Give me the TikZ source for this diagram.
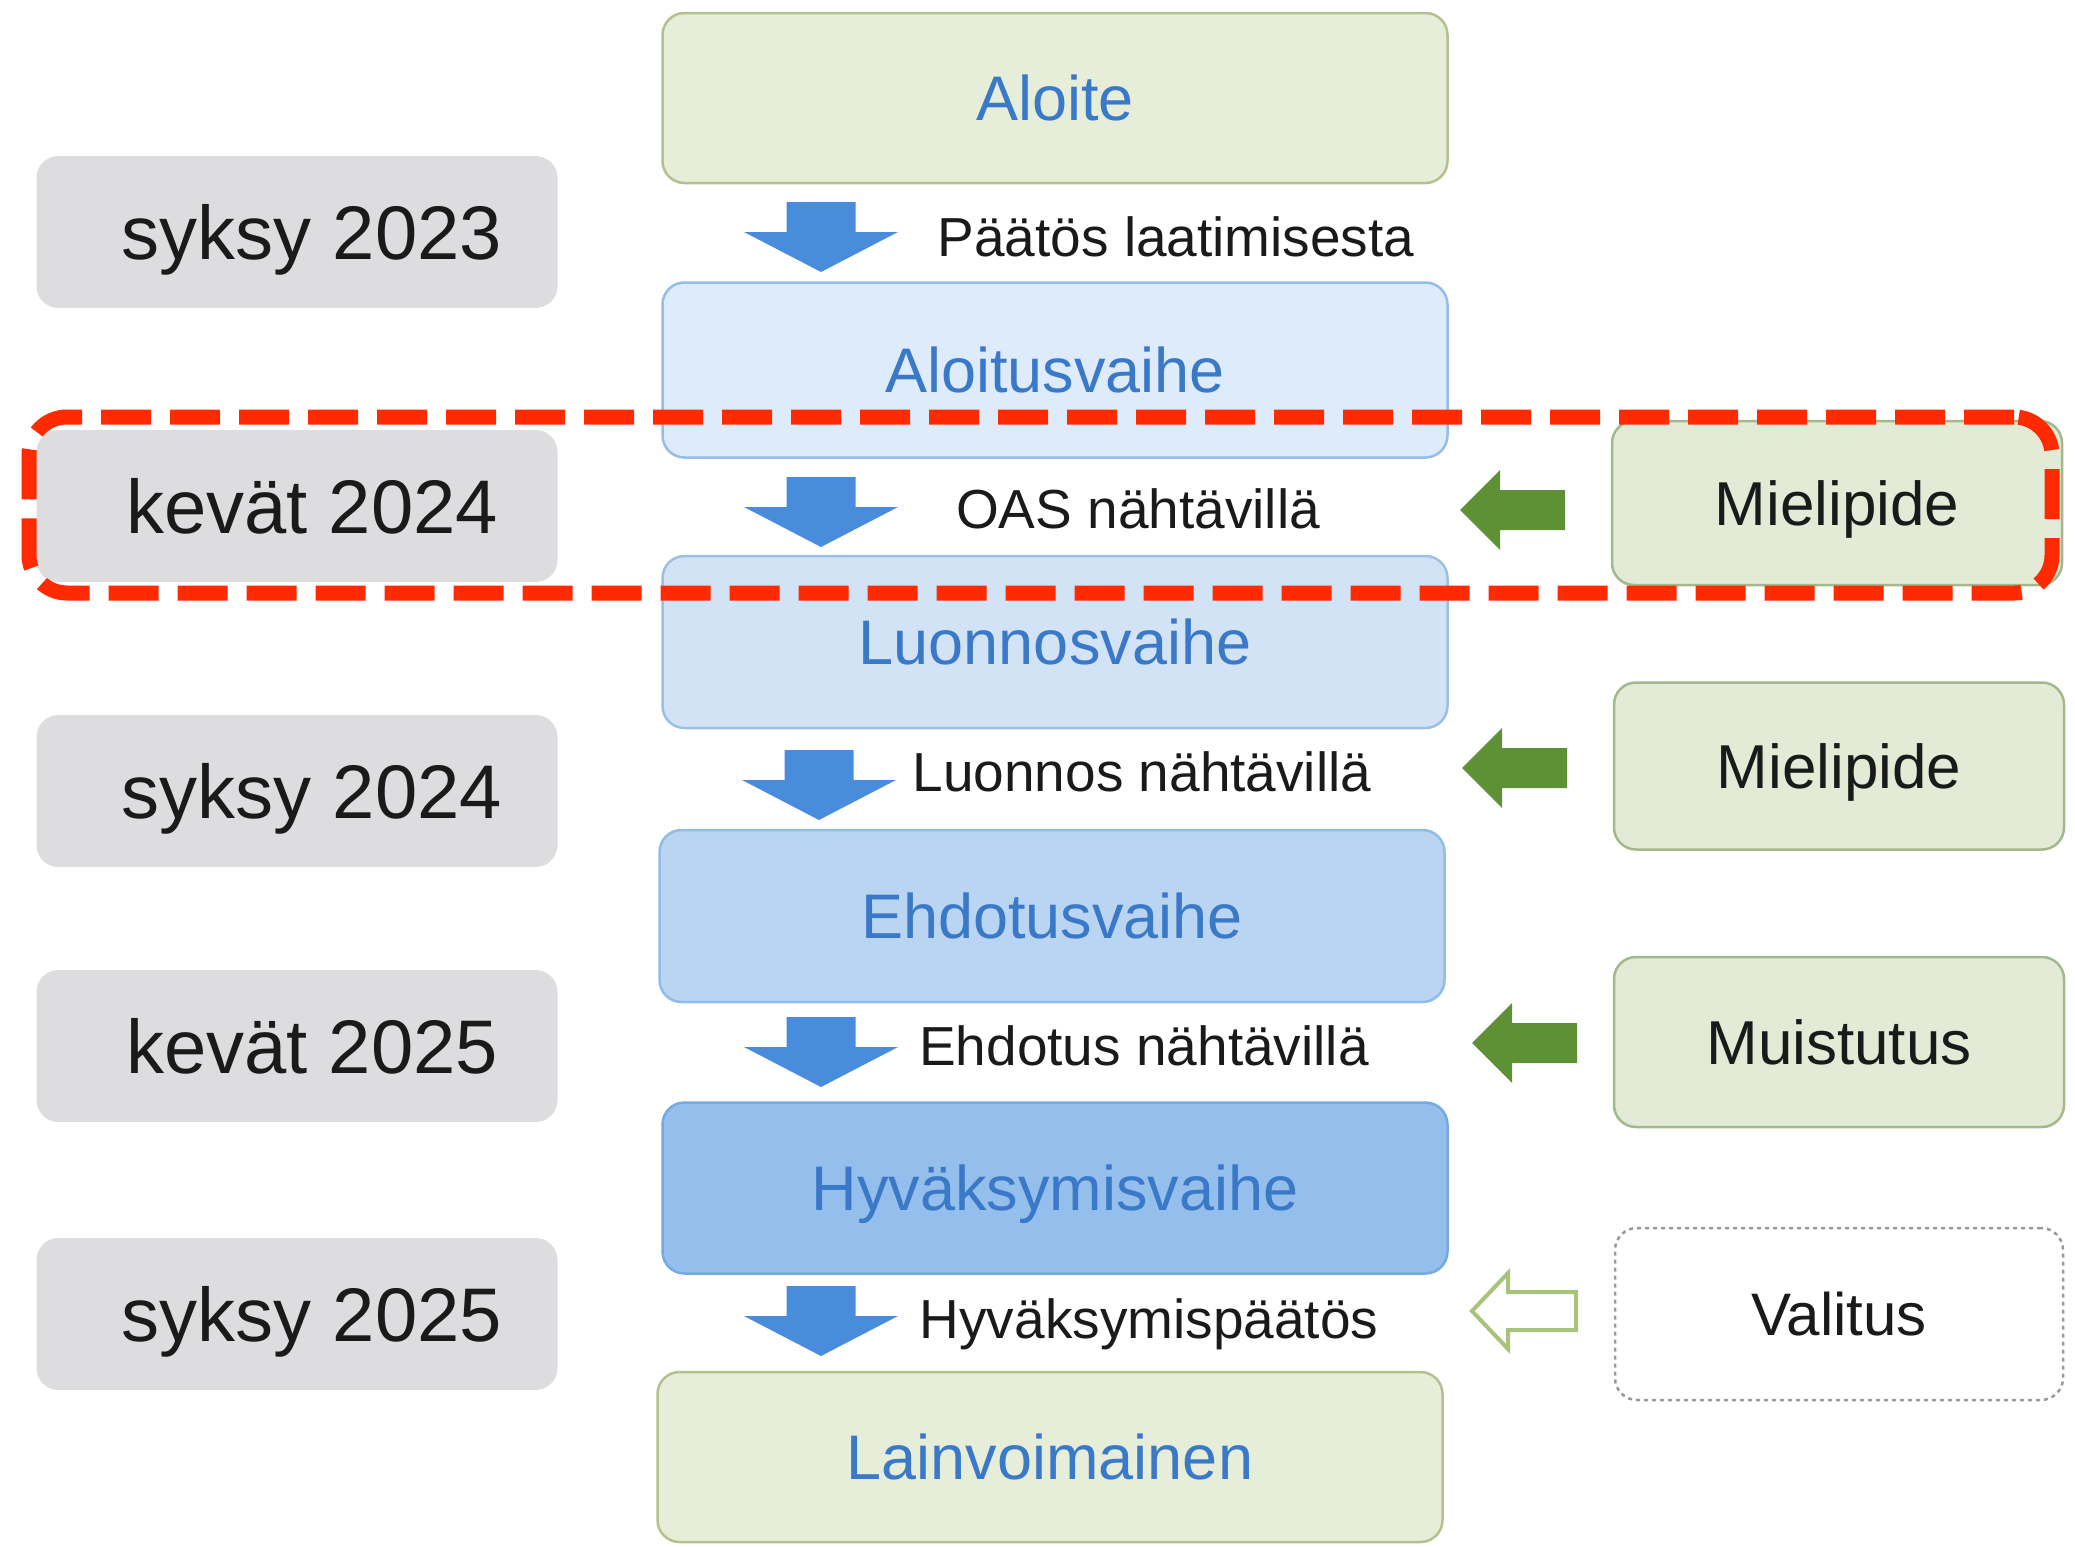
\documentclass[tikz,border=0pt]{standalone}
\usepackage{fontspec}
\setmainfont{Liberation Sans}
\definecolor{txtblue}{HTML}{3A78C8}
\definecolor{bluearrow}{HTML}{4A8CDC}
\definecolor{greenarrow}{HTML}{5E9136}
\definecolor{hollowgreen}{HTML}{A8C47C}
\definecolor{greenfill}{HTML}{E6EDD8}
\definecolor{greenborder}{HTML}{B4C08F}
\definecolor{blueAf}{HTML}{DDEBFA}
\definecolor{blueAb}{HTML}{94BEE6}
\definecolor{blueBf}{HTML}{D3E3F6}
\definecolor{blueBb}{HTML}{9DBFE2}
\definecolor{blueCf}{HTML}{B9D5F2}
\definecolor{blueCb}{HTML}{90BCE8}
\definecolor{blueDf}{HTML}{94BEEB}
\definecolor{blueDb}{HTML}{76A9E0}
\definecolor{graybox}{HTML}{DDDDDF}
\definecolor{inputfill}{HTML}{E3EBD7}
\definecolor{inputborder}{HTML}{A3B88C}
\definecolor{hilite}{HTML}{FF2A00}
\definecolor{darktext}{HTML}{1A1A1A}
\begin{document}
\begin{tikzpicture}[x=1pt,y=-1pt]
\tikzset{
  base/.style={rounded corners=22pt, line width=2.5pt, inner sep=0pt, text depth=0pt},
  phase/.style={base, minimum width=785pt, text=txtblue, font=\fontsize{63}{70}\selectfont, text height=45pt},
  season/.style={base, fill=graybox, minimum width=521pt, minimum height=152pt, font=\fontsize{76}{84}\selectfont, text=darktext, text height=55pt},
  inputbox/.style={base, draw=inputborder, fill=inputfill, minimum width=450pt, font=\fontsize{62}{70}\selectfont, text=darktext, text height=45pt},
  steplabel/.style={font=\fontsize{55}{60}\selectfont, text=darktext, inner sep=0pt, text height=40pt, text depth=0pt},
  downarr/.pic={\fill[bluearrow] (-34.5,0) -- (34.5,0) -- (34.5,30) -- (77,30) -- (0,70) -- (-77,30) -- (-34.5,30) -- cycle;},
  leftarr/.pic={\fill[greenarrow] (0,0) -- (40,-40) -- (40,-20) -- (105,-20) -- (105,20) -- (40,20) -- (40,40) -- cycle;},
  hollowarr/.pic={\draw[hollowgreen, line width=4pt, fill=white, line join=miter] (0,0) -- (36,-38) -- (36,-19) -- (104,-19) -- (104,19) -- (36,19) -- (36,38) -- cycle;}
}
\useasboundingbox (0,0) rectangle (2075,1547);

% central phase boxes
\node[phase, fill=greenfill, draw=greenborder, minimum height=170pt] (aloite) at (1055,98) {Aloite};
\node[phase, fill=blueAf, draw=blueAb, minimum height=175pt] (aloitus) at (1055,370) {Aloitusvaihe};
\node[phase, fill=blueBf, draw=blueBb, minimum height=172pt] (luonnos) at (1055,642) {Luonnosvaihe};
\node[phase, fill=blueCf, draw=blueCb, minimum height=172pt] (ehdotus) at (1052,916) {Ehdotusvaihe};
\node[phase, fill=blueDf, draw=blueDb, minimum height=171pt] (hyvaks) at (1055,1188) {Hyväksymisvaihe};
\node[phase, fill=greenfill, draw=greenborder, minimum height=170pt] (lainvoima) at (1050,1457) {Lainvoimainen};

% season boxes
\node[season] (s23) at (297,232) {\hspace*{30pt}syksy 2023};
\node[season] (k24) at (297,506) {\hspace*{30pt}kevät 2024};
\node[season] (s24) at (297,791) {\hspace*{30pt}syksy 2024};
\node[season] (k25) at (297,1046) {\hspace*{30pt}kevät 2025};
\node[season] (s25) at (297,1314) {\hspace*{30pt}syksy 2025};

% input boxes
\node[inputbox, minimum height=164pt] (miel1) at (1837,503) {Mielipide};
\node[inputbox, minimum height=167pt] (miel2) at (1839,766) {Mielipide};
\node[inputbox, minimum height=170pt] (muist) at (1839,1042) {Muistutus};
\node[base, draw=black!40, dashed, dash pattern=on 4pt off 4pt, fill=white, minimum width=448pt, minimum height=172pt, font=\fontsize{60}{70}\selectfont, text=darktext, text height=43pt] (valitus) at (1839,1314) {Valitus};

% blue down arrows
\pic at (821,202) {downarr};
\pic at (821,477) {downarr};
\pic at (819,750) {downarr};
\pic at (821,1017) {downarr};
\pic at (821,1286) {downarr};

% step labels
\node[steplabel] (l1) at (1176,236) {Päätös laatimisesta};
\node[steplabel] (l2) at (1138,508) {OAS nähtävillä};
\node[steplabel] (l3) at (1142,771) {Luonnos nähtävillä};
\node[steplabel] (l4) at (1144,1045) {Ehdotus nähtävillä};
\node[steplabel] (l5) at (1149,1318) {Hyväksymispäätös};

% green arrows
\pic at (1460,510) {leftarr};
\pic at (1462,768) {leftarr};
\pic at (1472,1043) {leftarr};
\pic at (1472,1311) {hollowarr};

% highlight frame
\node[draw=hilite, line width=15pt, dash pattern=on 50pt off 19pt, rounded corners=38pt, minimum width=2023pt, minimum height=176pt, inner sep=0pt] (highlight) at (1040.5,505) {};
\end{tikzpicture}
\end{document}
